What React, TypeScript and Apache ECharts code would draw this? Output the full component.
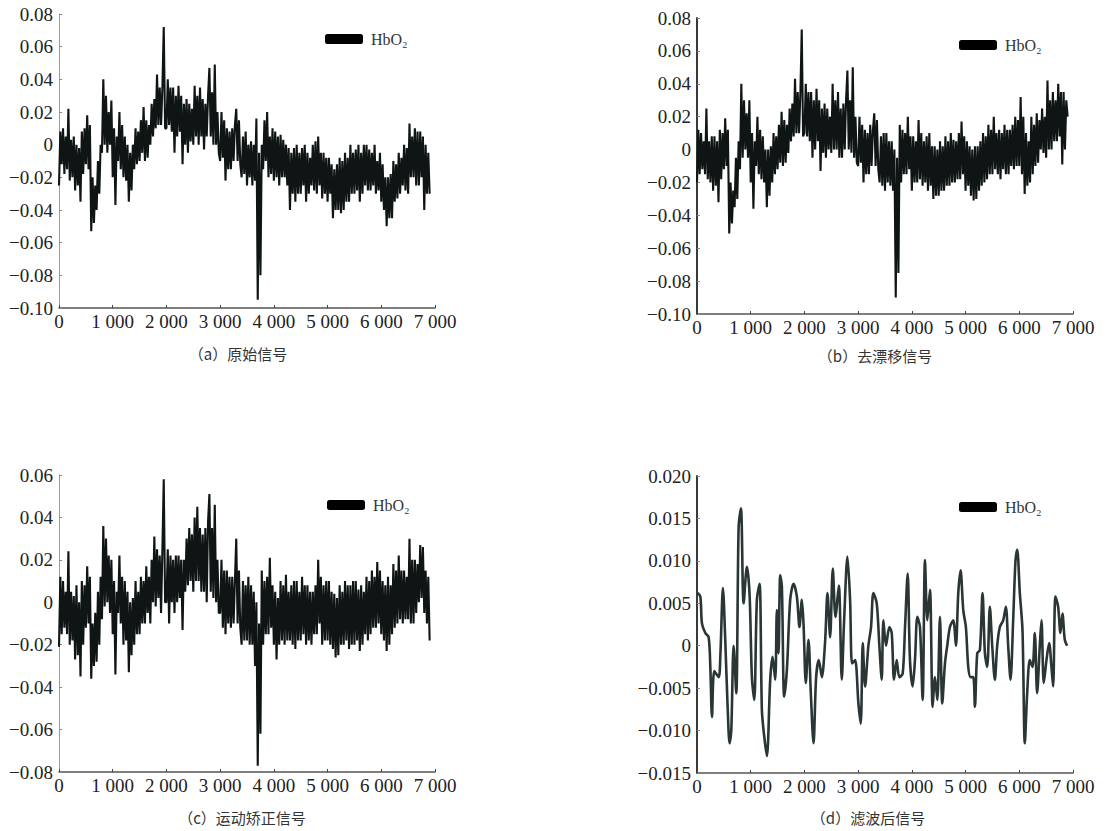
import React, { useEffect, useRef } from 'react';
import * as echarts from 'echarts';

// one reading every SAMPLE_STEP samples (sample index = i * SAMPLE_STEP), 0 … 6900
const SAMPLE_STEP = 25;

// (a) raw signal — one line per 100 samples
const rawSignal = [
  -0.025, 0.008, -0.012, 0.01, // 0
  -0.018, 0.005, -0.015, 0.022, // 100
  -0.022, 0.003, -0.02, 0.005, // 200
  -0.028, 0.0, -0.025, -0.002, // 300
  -0.035, 0.008, -0.018, 0.01, // 400
  -0.012, 0.018, -0.015, 0.012, // 500
  -0.053, -0.02, -0.048, -0.025, // 600
  -0.04, -0.01, -0.03, 0.0, // 700
  -0.005, 0.04, 0.0, 0.03, // 800
  -0.005, 0.02, 0.0, 0.027, // 900
  -0.02, 0.01, -0.037, 0.005, // 1000
  -0.01, 0.02, -0.015, 0.012, // 1100
  -0.02, 0.005, -0.022, 0.0, // 1200
  -0.035, -0.005, -0.028, 0.0, // 1300
  -0.015, 0.01, -0.012, 0.008, // 1400
  -0.01, 0.015, -0.005, 0.023, // 1500
  -0.01, 0.015, -0.008, 0.012, // 1600
  0.0, 0.025, 0.005, 0.028, // 1700
  0.01, 0.043, 0.012, 0.035, // 1800
  0.012, 0.035, 0.072, 0.01, // 1900
  0.01, 0.04, 0.012, 0.035, // 2000
  0.008, 0.035, -0.005, 0.03, // 2100
  0.005, 0.036, 0.008, 0.03, // 2200
  -0.012, 0.025, 0.0, 0.028, // 2300
  -0.005, 0.025, 0.002, 0.022, // 2400
  0.0, 0.036, 0.005, 0.03, // 2500
  0.0, 0.035, 0.005, 0.028, // 2600
  -0.003, 0.025, 0.005, 0.03, // 2700
  0.047, 0.005, 0.032, 0.0, // 2800
  0.049, 0.0, 0.02, -0.005, // 2900
  -0.01, 0.02, -0.008, 0.015, // 3000
  -0.022, 0.01, -0.015, 0.008, // 3100
  -0.015, 0.01, -0.01, 0.012, // 3200
  0.022, -0.01, 0.015, -0.012, // 3300
  -0.02, 0.005, -0.018, 0.008, // 3400
  -0.025, 0.0, -0.02, 0.002, // 3500
  -0.025, 0.0, -0.022, 0.016, // 3600
  -0.095, -0.005, -0.08, 0.0, // 3700
  -0.015, 0.015, -0.01, 0.02, // 3800
  -0.02, 0.005, -0.018, 0.01, // 3900
  -0.022, 0.008, -0.02, 0.005, // 4000
  -0.025, 0.006, -0.02, 0.003, // 4100
  -0.02, 0.0, -0.025, -0.002, // 4200
  -0.04, -0.005, -0.03, -0.002, // 4300
  -0.035, 0.0, -0.03, -0.005, // 4400
  -0.03, -0.002, -0.025, 0.0, // 4500
  -0.035, -0.005, -0.03, -0.008, // 4600
  -0.025, 0.0, -0.028, 0.002, // 4700
  -0.03, 0.005, -0.025, -0.005, // 4800
  -0.033, -0.005, -0.03, -0.008, // 4900
  -0.035, -0.008, -0.03, -0.012, // 5000
  -0.045, -0.015, -0.04, -0.012, // 5100
  -0.04, -0.008, -0.042, -0.01, // 5200
  -0.04, -0.005, -0.035, -0.008, // 5300
  -0.035, 0.0, -0.03, -0.005, // 5400
  -0.03, -0.003, -0.028, 0.0, // 5500
  -0.035, -0.005, -0.03, 0.0, // 5600
  -0.025, 0.0, -0.028, -0.003, // 5700
  -0.028, -0.005, -0.025, 0.0, // 5800
  -0.03, -0.01, -0.028, -0.005, // 5900
  -0.035, -0.012, -0.04, -0.02, // 6000
  -0.05, -0.02, -0.045, -0.018, // 6100
  -0.045, -0.01, -0.035, -0.012, // 6200
  -0.033, -0.005, -0.03, -0.008, // 6300
  -0.025, 0.0, -0.028, -0.002, // 6400
  -0.03, 0.013, -0.02, 0.005, // 6500
  -0.02, 0.01, -0.025, 0.008, // 6600
  -0.025, 0.008, -0.02, 0.005, // 6700
  -0.04, 0.0, -0.03, -0.005, // 6800
  -0.03, // 6900
];

// (b) drift-removed signal
const detrendedSignal = [
  -0.02, 0.012, -0.015, 0.01, // 0
  -0.012, 0.005, -0.015, 0.025, // 100
  -0.018, 0.005, -0.02, 0.008, // 200
  -0.025, 0.008, -0.022, 0.005, // 300
  -0.032, 0.012, -0.018, 0.01, // 400
  -0.012, 0.019, -0.01, 0.012, // 500
  -0.051, -0.02, -0.045, -0.025, // 600
  -0.035, -0.005, -0.03, 0.005, // 700
  -0.012, 0.04, -0.005, 0.03, // 800
  0.0, 0.022, -0.005, 0.03, // 900
  -0.02, 0.01, -0.036, 0.005, // 1000
  -0.01, 0.02, -0.015, 0.012, // 1100
  -0.018, 0.008, -0.02, 0.0, // 1200
  -0.035, 0.0, -0.028, 0.002, // 1300
  -0.02, 0.01, -0.015, 0.008, // 1400
  -0.012, 0.015, -0.008, 0.023, // 1500
  -0.01, 0.018, -0.008, 0.015, // 1600
  -0.002, 0.025, 0.005, 0.028, // 1700
  0.008, 0.043, 0.01, 0.035, // 1800
  0.01, 0.035, 0.073, 0.008, // 1900
  0.01, 0.04, 0.008, 0.035, // 2000
  0.005, 0.035, -0.005, 0.03, // 2100
  0.0, 0.037, 0.005, 0.03, // 2200
  -0.013, 0.025, -0.002, 0.028, // 2300
  -0.005, 0.025, 0.0, 0.02, // 2400
  -0.002, 0.04, 0.0, 0.03, // 2500
  0.0, 0.035, -0.005, 0.025, // 2600
  -0.005, 0.028, 0.0, 0.03, // 2700
  0.048, 0.0, 0.03, -0.002, // 2800
  0.05, -0.005, 0.02, -0.008, // 2900
  -0.01, 0.02, -0.008, 0.015, // 3000
  -0.02, 0.012, -0.015, 0.01, // 3100
  -0.015, 0.015, -0.01, 0.012, // 3200
  0.022, -0.01, 0.018, -0.012, // 3300
  -0.02, 0.008, -0.022, 0.01, // 3400
  -0.025, 0.01, -0.02, 0.005, // 3500
  -0.022, 0.005, -0.025, 0.0, // 3600
  -0.09, -0.005, -0.075, 0.015, // 3700
  -0.02, 0.012, -0.015, 0.01, // 3800
  -0.015, 0.02, -0.012, 0.008, // 3900
  -0.025, 0.008, -0.02, 0.005, // 4000
  -0.02, 0.018, -0.018, 0.01, // 4100
  -0.022, 0.005, -0.02, 0.008, // 4200
  -0.025, 0.01, -0.022, 0.002, // 4300
  -0.03, 0.002, -0.028, 0.0, // 4400
  -0.028, 0.005, -0.025, 0.002, // 4500
  -0.025, 0.008, -0.022, 0.005, // 4600
  -0.022, 0.01, -0.02, 0.006, // 4700
  -0.02, 0.005, -0.018, 0.01, // 4800
  -0.018, 0.017, -0.015, 0.008, // 4900
  -0.025, 0.005, -0.022, 0.002, // 5000
  -0.028, 0.0, -0.031, 0.002, // 5100
  -0.03, 0.002, -0.025, 0.005, // 5200
  -0.022, 0.01, -0.02, 0.008, // 5300
  -0.018, 0.015, -0.015, 0.012, // 5400
  -0.015, 0.02, -0.012, 0.01, // 5500
  -0.015, 0.012, -0.018, 0.01, // 5600
  -0.012, 0.015, -0.015, 0.012, // 5700
  -0.015, 0.012, -0.01, 0.015, // 5800
  -0.012, 0.02, -0.01, 0.018, // 5900
  -0.01, 0.032, -0.015, 0.02, // 6000
  -0.027, 0.01, -0.022, 0.005, // 6100
  -0.02, 0.02, -0.015, 0.015, // 6200
  -0.01, 0.022, -0.008, 0.018, // 6300
  0.0, 0.025, -0.002, 0.02, // 6400
  -0.005, 0.042, 0.0, 0.03, // 6500
  0.0, 0.035, 0.005, 0.03, // 6600
  0.005, 0.04, 0.008, 0.035, // 6700
  -0.009, 0.035, 0.0, 0.03, // 6800
  0.02, // 6900
];

// (c) motion-corrected signal
const motionCorrectedSignal = [
  -0.021, 0.012, -0.015, 0.01, // 0
  -0.012, 0.005, -0.015, 0.024, // 100
  -0.02, 0.005, -0.018, 0.003, // 200
  -0.027, 0.008, -0.025, 0.0, // 300
  -0.035, 0.01, -0.02, 0.008, // 400
  -0.012, 0.017, -0.01, 0.012, // 500
  -0.036, -0.01, -0.03, -0.005, // 600
  -0.028, 0.005, -0.02, 0.012, // 700
  -0.008, 0.036, -0.002, 0.03, // 800
  0.0, 0.022, -0.005, 0.02, // 900
  -0.015, 0.01, -0.034, 0.005, // 1000
  -0.005, 0.022, -0.01, 0.012, // 1100
  -0.02, 0.01, -0.018, 0.005, // 1200
  -0.033, 0.0, -0.025, 0.002, // 1300
  -0.02, 0.01, -0.015, 0.005, // 1400
  -0.015, 0.012, -0.01, 0.01, // 1500
  -0.01, 0.017, -0.005, 0.012, // 1600
  -0.01, 0.02, 0.0, 0.031, // 1700
  -0.002, 0.025, 0.002, 0.022, // 1800
  -0.005, 0.025, 0.058, 0.0, // 1900
  0.0, 0.025, -0.01, 0.022, // 2000
  0.0, 0.02, -0.005, 0.022, // 2100
  0.0, 0.022, 0.002, 0.02, // 2200
  -0.013, 0.02, 0.005, 0.03, // 2300
  0.008, 0.035, 0.01, 0.032, // 2400
  0.005, 0.04, 0.01, 0.045, // 2500
  0.01, 0.035, 0.005, 0.032, // 2600
  0.005, 0.035, 0.0, 0.038, // 2700
  0.051, 0.005, 0.035, 0.002, // 2800
  0.046, 0.0, 0.02, -0.005, // 2900
  -0.005, 0.02, -0.012, 0.015, // 3000
  -0.015, 0.015, -0.01, 0.012, // 3100
  -0.012, 0.012, -0.01, 0.01, // 3200
  0.03, -0.01, 0.015, -0.012, // 3300
  -0.02, 0.01, -0.018, 0.008, // 3400
  -0.018, 0.012, -0.02, 0.008, // 3500
  -0.02, 0.005, -0.03, 0.0, // 3600
  -0.077, -0.01, -0.062, 0.015, // 3700
  -0.02, 0.01, -0.015, 0.012, // 3800
  -0.015, 0.021, -0.012, 0.008, // 3900
  -0.02, 0.005, -0.027, 0.002, // 4000
  -0.02, 0.01, -0.018, 0.008, // 4100
  -0.02, 0.013, -0.018, 0.005, // 4200
  -0.018, 0.008, -0.02, 0.01, // 4300
  -0.022, 0.01, -0.018, 0.005, // 4400
  -0.018, 0.012, -0.015, 0.008, // 4500
  -0.02, 0.008, -0.018, 0.005, // 4600
  -0.02, 0.005, -0.015, 0.008, // 4700
  -0.015, 0.02, -0.01, 0.012, // 4800
  -0.02, 0.008, -0.018, 0.01, // 4900
  -0.018, 0.01, -0.02, 0.005, // 5000
  -0.022, 0.004, -0.026, 0.002, // 5100
  -0.025, 0.008, -0.02, 0.005, // 5200
  -0.02, 0.01, -0.018, 0.008, // 5300
  -0.022, 0.008, -0.02, 0.01, // 5400
  -0.02, 0.01, -0.018, 0.006, // 5500
  -0.023, 0.008, -0.02, 0.005, // 5600
  -0.015, 0.012, -0.018, 0.01, // 5700
  -0.015, 0.015, -0.012, 0.012, // 5800
  -0.012, 0.019, -0.01, 0.015, // 5900
  -0.015, 0.01, -0.018, 0.008, // 6000
  -0.023, 0.012, -0.02, 0.008, // 6100
  -0.015, 0.018, -0.012, 0.015, // 6200
  -0.01, 0.022, -0.008, 0.015, // 6300
  -0.01, 0.015, -0.008, 0.012, // 6400
  -0.008, 0.03, -0.01, 0.02, // 6500
  -0.01, 0.02, -0.005, 0.018, // 6600
  0.0, 0.027, 0.002, 0.026, // 6700
  -0.005, 0.015, -0.01, 0.012, // 6800
  -0.018, // 6900
];

// (d) filtered signal: sample index / value pairs
const filteredX = [
  12, 62, 93, 155, 217, 248, 279, 322, 403, 434,
  483, 527, 570, 607, 638, 682, 731, 775, 818, 868,
  929, 979, 1022, 1066, 1115, 1165, 1208, 1252, 1301, 1363,
  1406, 1456, 1487, 1518, 1549, 1580, 1623, 1673, 1735, 1797,
  1859, 1908, 1952, 1983, 2026, 2076, 2119, 2169, 2218, 2268,
  2324, 2385, 2429, 2478, 2528, 2578, 2640, 2695, 2739, 2801,
  2850, 2887, 2943, 3005, 3048, 3086, 3129, 3191, 3240, 3284,
  3346, 3395, 3439, 3470, 3519, 3581, 3625, 3668, 3718, 3767,
  3829, 3873, 3922, 3965, 4015, 4058, 4102, 4151, 4201, 4244,
  4288, 4337, 4387, 4430, 4474, 4523, 4566, 4616, 4659, 4709,
  4771, 4820, 4864, 4907, 4957, 5006, 5050, 5093, 5143, 5174,
  5217, 5267, 5316, 5360, 5403, 5452, 5496, 5545, 5589, 5638,
  5700, 5750, 5793, 5837, 5886, 5930, 5961, 6010, 6060, 6103,
  6147, 6196, 6246, 6289, 6332, 6382, 6413, 6456, 6506, 6555,
  6599, 6630, 6673, 6723, 6766, 6803, 6847, 6890,
];

const filteredY = [
  0.0062, 0.0058, 0.0026, 0.0015, 0.001, -0.0025, -0.0084, -0.003, -0.0037, -0.0013,
  0.0068, 0.0005, -0.0072, -0.0115, -0.01, 0, -0.0056, 0.014, 0.0162, 0.005,
  0.0093, 0.006, -0.0037, -0.0064, 0.0054, 0.0073, -0.0076, -0.0107, -0.013, -0.004,
  -0.0013, -0.004, 0.0042, -0.0009, 0.0083, 0.007, -0.006, -0.0029, 0.0054, 0.0073,
  0.0058, 0.0022, 0.0054, 0.0026, -0.0044, 0.0007, -0.0056, -0.0115, -0.0037, -0.0017,
  -0.0037, 0.0005, 0.0062, 0.001, 0.0091, 0.0034, 0.0071, -0.004, 0.003, 0.0105,
  0.0054, -0.0021, -0.0017, -0.0068, -0.0092, 0.0003, -0.0048, 0, 0.0022, 0.0062,
  0.005, 0, -0.004, 0.003, 0, 0.0022, 0.0015, -0.004, -0.0017, -0.0037,
  -0.0033, 0.0022, 0.0085, -0.0017, -0.0048, -0.0017, 0.0034, 0.0022, -0.0064, 0.0101,
  0.003, 0.0066, -0.0072, -0.0037, -0.0064, 0.0034, -0.0068, -0.0021, 0, 0.0022,
  0.003, 0, 0.0062, 0.0089, 0.0042, 0.0022, -0.0025, -0.0037, -0.0037, -0.0072,
  -0.0009, -0.0005, 0.0062, -0.0009, -0.0025, 0.0046, 0, -0.004, 0, 0.0022,
  0.003, 0.0046, 0, -0.004, 0.003, 0.0101, 0.0113, 0.0062, 0.0018, -0.0115,
  -0.0056, -0.0017, -0.0025, 0.0015, -0.0056, 0, 0.003, -0.0044, -0.0017, 0.0003,
  -0.0025, -0.0048, 0.0058, 0.0046, 0.0015, 0.0038, 0.0007, 0,
];

const panelTitles = ['（a）原始信号', '（b）去漂移信号', '（c）运动矫正信号', '（d）滤波后信号'];
const seriesName = 'HbO₂';

// y-axis ranges per panel: [min, max, interval, decimals]
const yRanges: [number, number, number, number][] = [
  [-0.1, 0.08, 0.02, 2],
  [-0.1, 0.08, 0.02, 2],
  [-0.08, 0.06, 0.02, 2],
  [-0.015, 0.02, 0.005, 3],
];
const xRange = [0, 7000, 1000];

const SERIF = 'Liberation Serif';
const CJK = 'Noto Sans CJK SC';

const fmtY = (dec: number) => (v: number) => {
  if (Math.abs(v) < 1e-9) return '0';
  return (v < 0 ? '−' : '') + Math.abs(v).toFixed(dec);
};
const fmtX = (v: number) => (v === 0 ? '0' : `${Math.round(v / 1000)} 000`);

export default function App() {
  const ref = useRef<HTMLDivElement>(null);

  useEffect(() => {
    document.body.style.margin = '0';
    if (!ref.current) return;
    const chart = echarts.init(ref.current, undefined, { renderer: 'svg' });

    const grids = [
      { left: 59, top: 14, width: 376, height: 294 },
      { left: 697, top: 18, width: 376, height: 296 },
      { left: 59, top: 475, width: 376, height: 297 },
      { left: 697, top: 476, width: 376, height: 297 },
    ];
    const yLineColors = ['#9a9a9a', '#3a3a3a', '#9a9a9a', '#3a3a3a'];
    const yLineWidths = [1, 2, 1, 2];
    const titlePos = [
      [238, 353],
      [875, 355],
      [242, 817],
      [868, 817],
    ];
    const legendPos = [
      [325, 31],
      [959, 37],
      [327, 497],
      [959, 499],
    ];

    const noisy = [rawSignal, detrendedSignal, motionCorrectedSignal];

    const series: any[] = noisy.map((arr, k) => ({
      type: 'line',
      name: seriesName,
      xAxisIndex: k,
      yAxisIndex: k,
      data: arr.map((v, i) => [i * SAMPLE_STEP, v]),
      showSymbol: false,
      symbol: 'none',
      lineStyle: { color: '#0f1414', width: 2.1 },
      itemStyle: { color: '#000' },
    }));
    series.push({
      type: 'line',
      name: seriesName,
      xAxisIndex: 3,
      yAxisIndex: 3,
      data: filteredX.map((x, i) => [x, filteredY[i]]),
      showSymbol: false,
      symbol: 'none',
      smooth: 0.3,
      lineStyle: { color: '#2a3535', width: 2.6 },
      itemStyle: { color: '#000' },
    });

    const labelStyle = {
      fontFamily: SERIF,
      fontSize: 19,
      color: '#222',
    };

    chart.setOption({
      animation: false,
      backgroundColor: '#fff',
      grid: grids.map((g) => ({ ...g, containLabel: false })),
      xAxis: grids.map((_, k) => ({
        type: 'value',
        gridIndex: k,
        min: xRange[0],
        max: xRange[1],
        interval: xRange[2],
        axisLine: { show: true, onZero: false, lineStyle: { color: '#555', width: 1.5 } },
        axisTick: { show: true, inside: true, length: 3, lineStyle: { color: '#444' } },
        splitLine: { show: false },
        axisLabel: { ...labelStyle, formatter: fmtX, margin: 4, hideOverlap: false },
      })),
      yAxis: grids.map((_, k) => ({
        type: 'value',
        gridIndex: k,
        min: yRanges[k][0],
        max: yRanges[k][1],
        interval: yRanges[k][2],
        axisLine: { show: true, onZero: false, lineStyle: { color: yLineColors[k], width: yLineWidths[k] } },
        axisTick: { show: true, inside: true, length: 3, lineStyle: { color: '#888' } },
        splitLine: { show: false },
        axisLabel: { ...labelStyle, formatter: fmtY(yRanges[k][3]), margin: 6 },
      })),
      legend: legendPos.map(([l, t]) => ({
        left: l,
        top: t,
        padding: 0,
        icon: 'roundRect',
        itemWidth: 38,
        itemHeight: 10,
        selectedMode: false,
        data: [{ name: seriesName, itemStyle: { color: '#000' } }],
        textStyle: { fontFamily: SERIF, fontSize: 16, color: '#333', padding: [0, 0, 0, 3] },
      })),
      graphic: panelTitles.map((t, k) => ({
        type: 'text',
        x: titlePos[k][0],
        y: titlePos[k][1],
        style: {
          text: t,
          font: `15px ${CJK}`,
          fill: '#333',
          textAlign: 'center',
          textVerticalAlign: 'middle',
        },
      })),
      series,
    });

    return () => chart.dispose();
  }, []);

  return (
    <div
      ref={ref}
      style={{ position: 'fixed', left: 0, top: 0, width: 1106, height: 831 }}
    />
  );
}
